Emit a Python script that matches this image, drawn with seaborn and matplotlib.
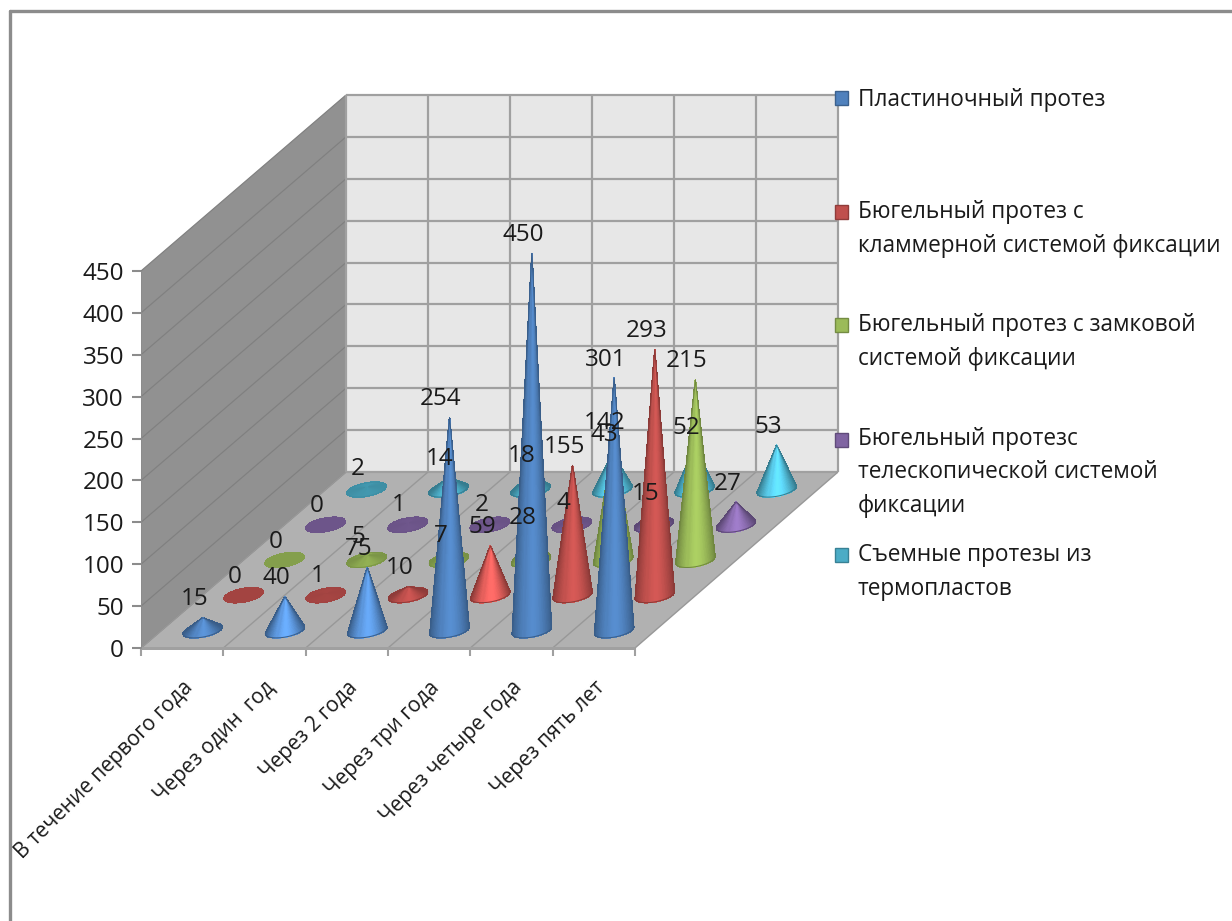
import numpy as np
import matplotlib
matplotlib.use("Agg")
import matplotlib.pyplot as plt
from matplotlib.collections import PolyCollection
from matplotlib.lines import Line2D
from matplotlib.patches import Polygon, Rectangle
from matplotlib.transforms import ScaledTranslation
import seaborn as sns

periods = ["В течение первого года", "Через один  год", "Через 2 года",
           "Через три года", "Через четыре года", "Через пять лет"]
plate = [15, 40, 75, 254, 450, 301]
clasp = [0, 1, 10, 59, 155, 293]
lock = [0, 5, 7, 28, 142, 215]
telescopic = [0, 1, 2, 4, 15, 27]
thermoplastic = [2, 14, 18, 43, 52, 53]
series_values = [plate, clasp, lock, telescopic, thermoplastic]
series_names = ["Пластиночный протез",
                "Бюгельный протез с\nкламмерной системой фиксации",
                "Бюгельный протез с замковой\nсистемой фиксации",
                "Бюгельный протезс\nтелескопической системой\nфиксации",
                "Съемные протезы из\nтермопластов"]
series_colors = ["#4F81BD", "#C0504D", "#9BBB59", "#8064A2", "#4BACC6"]
value_ticks = [0, 50, 100, 150, 200, 250, 300, 350, 400, 450]

W, H = 1232, 921
PT = 72 / 100  # points per pixel at dpi 100

sns.set_theme(style="white", rc={"axes.facecolor": "none"})
plt.rcParams["font.family"] = ["Open Sans", "DejaVu Sans"]
palette = sns.color_palette(series_colors)

fig = plt.figure(figsize=(W / 100, H / 100), dpi=100, facecolor="white")
ax = fig.add_axes([141 / W, (H - 648) / H, 494 / W, 377 / H])
ax.set_xlim(0, 6)
ax.set_ylim(0, 450)

# Oblique projection of the chart box: depth shifts right and upward,
# with a slight narrowing toward the back wall
CAT_PX = 494 / 6
SKEW_X = 41 / CAT_PX
NARROW = (2 / 5 / 6) / CAT_PX
SKEW_Y = 35.2 / (377 / 450)
N_SERIES = len(series_values)


def project(cat, depth, value):
    return cat + depth * (SKEW_X - cat * NARROW), value + depth * SKEW_Y


# Walls and floor
wall_kw = dict(clip_on=False, linewidth=0)
ax.add_patch(Polygon([project(0, 0, 0), project(0, N_SERIES, 0),
                      project(0, N_SERIES, 450), project(0, 0, 450)],
                     facecolor="#919191", zorder=1, **wall_kw))
ax.add_patch(Polygon([project(0, N_SERIES, 0), project(6, N_SERIES, 0),
                      project(6, N_SERIES, 450), project(0, N_SERIES, 450)],
                     facecolor="#e7e7e7", zorder=1, **wall_kw))
ax.add_patch(Polygon([project(0, 0, 0), project(6, 0, 0),
                      project(6, N_SERIES, 0), project(0, N_SERIES, 0)],
                     facecolor="#b1b1b1", zorder=1, **wall_kw))


def seg(a, b, color="#a0a0a0", lw=2.0, z=2):
    ax.plot(*zip(a, b), color=color, lw=lw * PT, clip_on=False, zorder=z,
            solid_capstyle="butt")


for v in value_ticks:
    seg(project(0, 0, v), project(0, N_SERIES, v), color="#808080", lw=1.2)
    seg(project(0, N_SERIES, v), project(6, N_SERIES, v), lw=2.2)
for c in range(7):
    seg(project(c, 0, 0), project(c, N_SERIES, 0), color="#989898", lw=1.4)
    seg(project(c, N_SERIES, 0), project(c, N_SERIES, 450), lw=2.2)
seg(project(0, 0, 0), project(6, 0, 0), lw=3)
seg(project(0, 0, 0), project(0, 0, 450), color="#8c8c8c", lw=1)


def convex_hull(points):
    pts = sorted(set(points))

    def half(seq):
        out = []
        for p in seq:
            while len(out) > 1 and ((out[-1][0] - out[-2][0]) * (p[1] - out[-2][1])
                                    - (out[-1][1] - out[-2][1]) * (p[0] - out[-2][0])) <= 0:
                out.pop()
            out.append(p)
        return out[:-1]

    return half(pts) + half(pts[::-1])


def cone(cat_center, series_idx, value, color):
    """Fan of shaded facets around the apex, drawn from the far side forward."""
    radius = 0.213
    rgb = np.array(color)
    apex = project(cat_center, series_idx + 0.5, value)
    angles = np.linspace(0, 2 * np.pi, 145)
    mids = (angles[:-1] + angles[1:]) / 2
    rim = [project(cat_center + radius * np.cos(a), series_idx + 0.5 + radius * np.sin(a), 0)
           for a in angles]
    peak = np.interp(value, [0, 40, 60, 150, 450], [0, 1, 1, 0.25, 0.15])
    sharp = min(1.0, value / 12)
    norm = np.hypot(1, SKEW_X)
    polys, shades = [], []
    for k, m in enumerate(mids):
        polys.append([apex, rim[k], rim[k + 1]])
        u = (np.cos(m) + SKEW_X * np.sin(m)) / norm
        centre_gain = 1.0 - abs(u) ** 1.6
        lit = 0.72 + (1.04 + 0.32 * peak - 0.72) * centre_gain
        shades.append(0.85 + (lit - 0.85) * sharp)
    order = np.argsort(-np.sin(mids))
    polys = [polys[k] for k in order]
    cols = [tuple(np.clip(rgb * shades[k], 0, 1)) for k in order]
    z = 10 + N_SERIES - series_idx
    ax.add_collection(PolyCollection(polys, facecolors=cols, edgecolors=cols,
                                     linewidths=0.5, antialiaseds=False,
                                     clip_on=False, zorder=z),
                      autolim=False)
    # Smooth outline over the facet fan
    edge_shade = 0.72 + (0.85 - 0.72) * (1 - sharp)
    ax.add_patch(Polygon(convex_hull(rim + [apex]), closed=True, fill=False,
                         edgecolor=tuple(rgb * edge_shade), linewidth=1.0 * PT,
                         clip_on=False, zorder=z, joinstyle="round"))


for s in range(N_SERIES - 1, -1, -1):
    for c, val in enumerate(series_values[s]):
        cone(c + 0.5, s, val, palette[s])
        ax.annotate(str(val), project(c + 0.5, s + 0.5, val),
                    xytext=(-8.5 * PT, 18.5 * PT), textcoords="offset points",
                    ha="center", va="center", fontsize=17.5, color="#1a1a1a",
                    annotation_clip=False, zorder=40)

# Axes, ticks and labels
sns.despine(ax=ax, left=True, bottom=True)
ax.set_yticks(value_ticks)
ax.set_yticklabels([str(v) for v in value_ticks], fontsize=17.5, color="#1a1a1a")
ax.tick_params(axis="y", length=9 * PT, width=1.5, color="#8c8c8c", pad=8 * PT, left=True)
ax.set_xticks(np.arange(6) + 0.5)
ax.set_xticklabels(periods, rotation=45, ha="right", rotation_mode="anchor",
                   fontsize=15, color="#1a1a1a")
for label in ax.get_xticklabels():
    label.set_transform(label.get_transform() + ScaledTranslation(-10 / 100, 0, fig.dpi_scale_trans))
ax.set_xticks(np.arange(7), minor=True)
ax.tick_params(axis="x", which="major", length=0, pad=29 * PT)
ax.tick_params(axis="x", which="minor", length=8 * PT, width=1.5, color="#a0a0a0", bottom=True)

# Legend entries: swatch beside the first line of each wrapped name
LINE_STEP = 32
entry_first_lines = [98, 212, 325, 440, 555]
for name, col, yc in zip(series_names, palette, entry_first_lines):
    fig.add_artist(Rectangle((835 / W, 1 - (yc + 7) / H), 13 / W, 14 / H, transform=fig.transFigure,
                             facecolor=col, edgecolor=np.array(col) * 0.75, linewidth=1))
    extra_lines = name.count("\n")
    fig.text(858 / W, 1 - (yc + 8 + extra_lines * LINE_STEP) / H, name, fontsize=16.3,
             va="baseline", ha="left", color="#1a1a1a", linespacing=1.53)

# Frame around the chart area
frame_kw = dict(transform=fig.transFigure, color="#8c8c8c", linewidth=2.4)
fig.add_artist(Line2D([9.5 / W, 1], [1 - 11.5 / H, 1 - 11.5 / H], **frame_kw))
fig.add_artist(Line2D([9.5 / W, 9.5 / W], [0, 1 - 11.5 / H], **frame_kw))

fig.savefig("out.png", dpi=100)
